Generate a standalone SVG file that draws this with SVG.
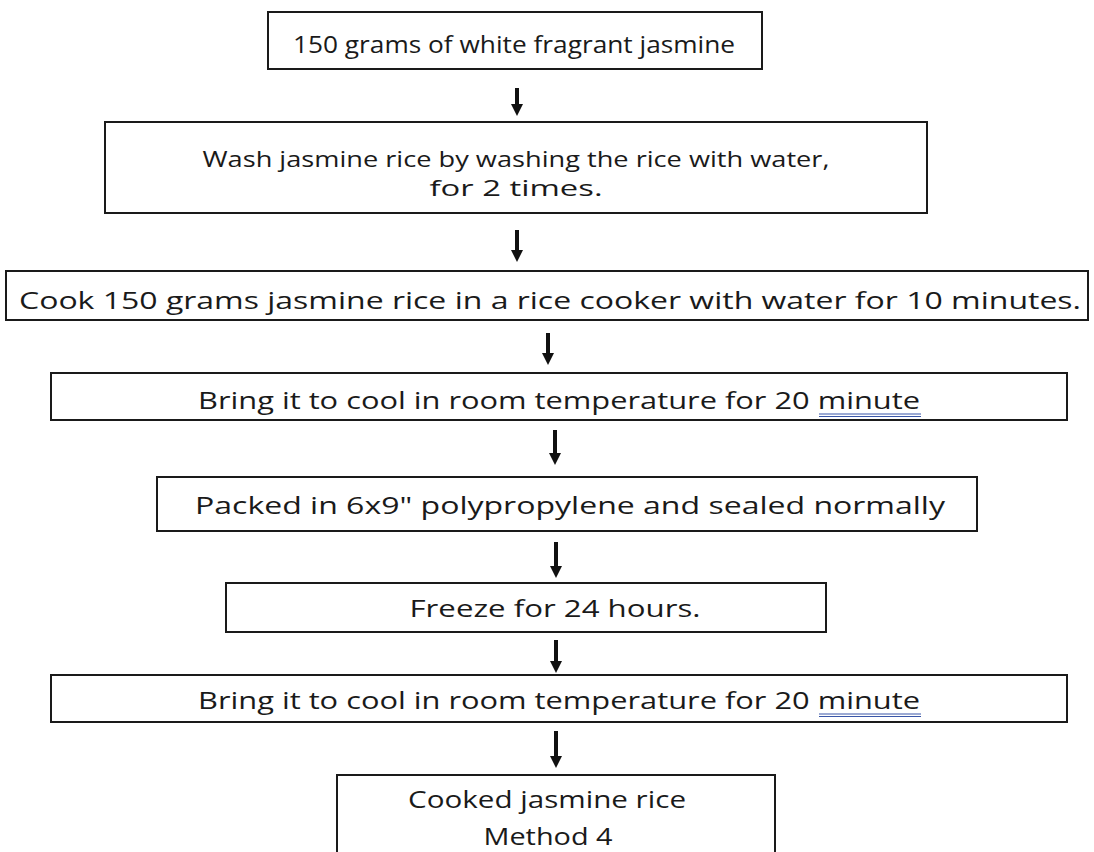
<svg xmlns="http://www.w3.org/2000/svg" width="1094" height="852" viewBox="0 0 1094 852">
<defs>
<style>
.box{fill:#fff;stroke:#1a1a1a;stroke-width:2}
.t{font-family:"Open Sans","Noto Sans",sans-serif;font-size:24px;fill:#1a1a1a;text-anchor:middle}
.t2{font-size:22px}
.arr{stroke:#111;stroke-width:4}
.ul{stroke:#3a56a8;stroke-width:1}
</style>
<marker id="ah" markerWidth="4" markerHeight="3" refX="0.5" refY="1.5" orient="auto" markerUnits="strokeWidth">
<path d="M0,0 L3,1.5 L0,3 z" fill="#111"/>
</marker>
</defs>
<rect width="1094" height="852" fill="#fff"/>
<g id="connectors">
<line class="arr" x1="517" y1="88" x2="517" y2="106" marker-end="url(#ah)"/>
<line class="arr" x1="517" y1="230" x2="517" y2="252" marker-end="url(#ah)"/>
<line class="arr" x1="548" y1="333" x2="548" y2="355" marker-end="url(#ah)"/>
<line class="arr" x1="555" y1="430" x2="555" y2="455" marker-end="url(#ah)"/>
<line class="arr" x1="556" y1="542" x2="556" y2="568" marker-end="url(#ah)"/>
<line class="arr" x1="556" y1="640" x2="556" y2="663" marker-end="url(#ah)"/>
<line class="arr" x1="556" y1="731" x2="556" y2="758" marker-end="url(#ah)"/>
</g>
<g id="n1">
<rect class="box" x="268" y="12" width="494" height="57"/>
<text class="t" x="514" y="53" textLength="442" lengthAdjust="spacingAndGlyphs">150 grams of white fragrant jasmine</text>
</g>
<g id="n2">
<rect class="box" x="105" y="122" width="822" height="91"/>
<text class="t t2" x="516" y="167" textLength="627" lengthAdjust="spacingAndGlyphs">Wash jasmine rice by washing the rice with water,</text>
<text class="t t2" x="516" y="196" textLength="173" lengthAdjust="spacingAndGlyphs">for 2 times.</text>
</g>
<g id="n3">
<rect class="box" x="6" y="271" width="1082" height="49"/>
<text class="t" x="550" y="309" textLength="1062" lengthAdjust="spacingAndGlyphs">Cook 150 grams jasmine rice in a rice cooker with water for 10 minutes.</text>
</g>
<g id="n4">
<rect class="box" x="51" y="373" width="1016" height="47"/>
<text class="t" x="559" y="409" textLength="722" lengthAdjust="spacingAndGlyphs">Bring it to cool in room temperature for 20 minute</text>
<line class="ul" x1="819" y1="414" x2="921" y2="414"/>
<line class="ul" x1="819" y1="416.5" x2="921" y2="416.5"/>
</g>
<g id="n5">
<rect class="box" x="157" y="477" width="820" height="54"/>
<text class="t" x="570" y="514" textLength="750" lengthAdjust="spacingAndGlyphs">Packed in 6x9" polypropylene and sealed normally</text>
</g>
<g id="n6">
<rect class="box" x="226" y="583" width="600" height="49"/>
<text class="t" x="555" y="617" textLength="291" lengthAdjust="spacingAndGlyphs">Freeze for 24 hours.</text>
</g>
<g id="n7">
<rect class="box" x="51" y="675" width="1016" height="47"/>
<text class="t" x="559" y="709" textLength="722" lengthAdjust="spacingAndGlyphs">Bring it to cool in room temperature for 20 minute</text>
<line class="ul" x1="819" y1="714" x2="921" y2="714"/>
<line class="ul" x1="819" y1="716.5" x2="921" y2="716.5"/>
</g>
<g id="n8">
<rect class="box" x="337" y="775" width="438" height="90"/>
<text class="t" x="547" y="808" textLength="278" lengthAdjust="spacingAndGlyphs">Cooked jasmine rice</text>
<text class="t" x="548" y="845" textLength="129" lengthAdjust="spacingAndGlyphs">Method 4</text>
</g>
</svg>
